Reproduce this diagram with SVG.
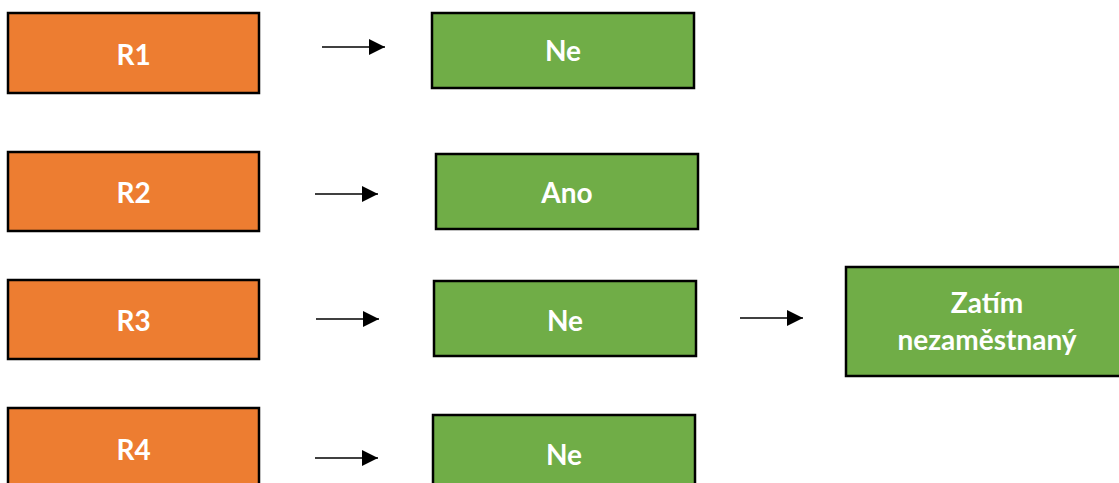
<svg xmlns="http://www.w3.org/2000/svg" width="1119" height="483" viewBox="0 0 1119 483">
  <defs>
    <marker id="arrow" viewBox="0 0 10 10" refX="10" refY="5" markerWidth="16" markerHeight="16" markerUnits="userSpaceOnUse" orient="auto">
      <path d="M0,0 L10,5 L0,10 Z" fill="#000"/>
    </marker>
    <style>
      .orange { fill: #ED7D31; stroke: #000; stroke-width: 2.5; }
      .green { fill: #70AD47; stroke: #000; stroke-width: 2.5; }
      .label { fill: #fff; font-family: Lato, "Open Sans", "Liberation Sans", sans-serif; font-weight: bold; font-size: 28px; text-anchor: middle; }
      .conn { stroke: #000; stroke-width: 1.5; fill: none; marker-end: url(#arrow); }
    </style>
  </defs>
  <rect width="1119" height="483" fill="#fff"/>

  <g id="r1">
    <rect class="orange" x="8" y="13" width="251" height="80"/>
    <text class="label" x="133.5" y="65">R1</text>
  </g>
  <g id="ne1">
    <rect class="green" x="432" y="13" width="262" height="75"/>
    <text class="label" x="563" y="61">Ne</text>
  </g>

  <g id="r2">
    <rect class="orange" x="8" y="152" width="251" height="79"/>
    <text class="label" x="133.5" y="203">R2</text>
  </g>
  <g id="ano">
    <rect class="green" x="436" y="154" width="262" height="75"/>
    <text class="label" x="567" y="203">Ano</text>
  </g>

  <g id="r3">
    <rect class="orange" x="8" y="280" width="251" height="79"/>
    <text class="label" x="133.5" y="331">R3</text>
  </g>
  <g id="ne3">
    <rect class="green" x="434" y="281" width="262" height="75"/>
    <text class="label" x="565" y="331">Ne</text>
  </g>
  <g id="zatim">
    <rect class="green" x="846" y="267" width="282" height="109"/>
    <text class="label" x="987" y="313">Zatím</text>
    <text class="label" x="987" y="350">nezaměstnaný</text>
  </g>

  <g id="r4">
    <rect class="orange" x="8" y="408" width="251" height="90"/>
    <text class="label" x="133.5" y="460">R4</text>
  </g>
  <g id="ne4">
    <rect class="green" x="433" y="415" width="262" height="85"/>
    <text class="label" x="564" y="465">Ne</text>
  </g>

  <g id="connectors">
    <line class="conn" x1="322" y1="47" x2="385" y2="47"/>
    <line class="conn" x1="315" y1="194" x2="378" y2="194"/>
    <line class="conn" x1="316" y1="319" x2="379" y2="319"/>
    <line class="conn" x1="740" y1="318" x2="803" y2="318"/>
    <line class="conn" x1="315" y1="458" x2="378" y2="458"/>
  </g>
</svg>
